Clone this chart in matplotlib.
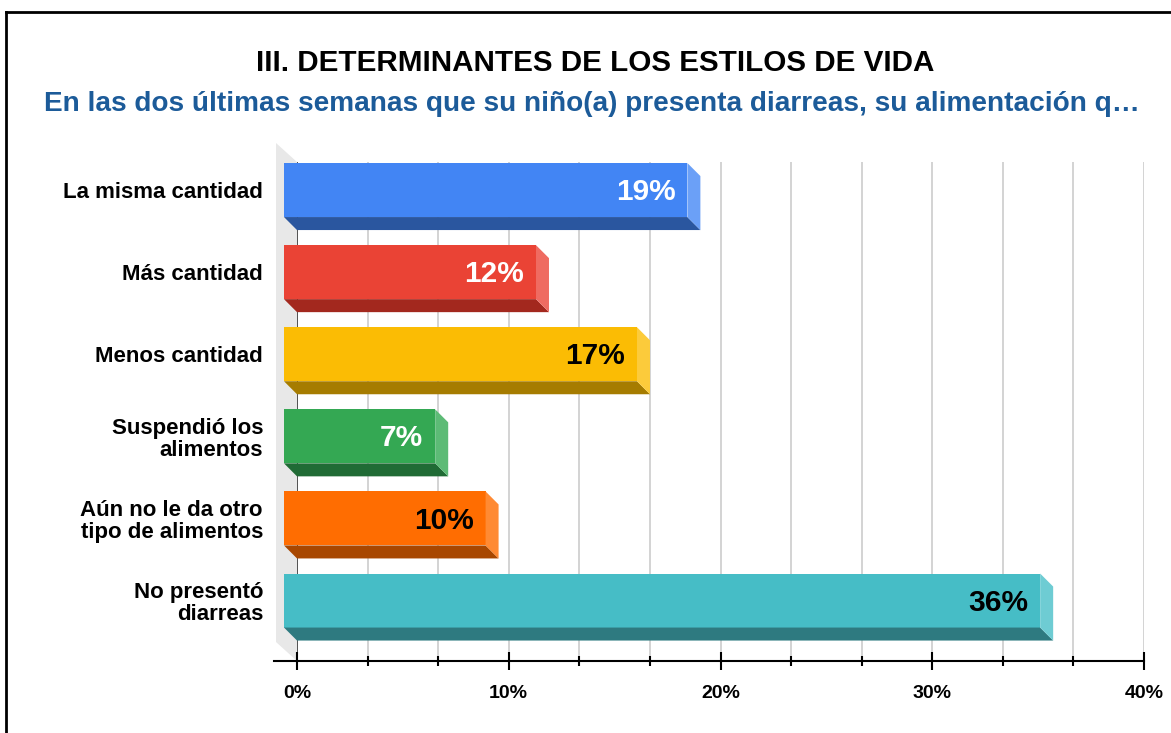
import matplotlib.pyplot as plt
from matplotlib.patches import Polygon
from matplotlib.lines import Line2D
import numpy as np

plt.rcParams['font.family'] = ['Liberation Sans', 'DejaVu Sans']

############# data ###############
categories = ['La misma cantidad', 'Más cantidad', 'Menos cantidad',
              'Suspendió los\nalimentos', 'Aún no le da otro\ntipo de alimentos',
              'No presentó\ndiarreas']
values = [19.05, 11.90, 16.67, 7.14, 9.52, 35.71]
labels = ['19%', '12%', '17%', '7%', '10%', '36%']
front_colors = ['#4285F4', '#EA4335', '#FBBC04', '#34A853', '#FF6D01', '#46BDC6']
bottom_colors = ['#2A569F', '#A3281E', '#A67C00', '#206B35', '#A84700', '#2E7A80']
side_colors = ['#6BA0F7', '#EF6B61', '#FCCB3B', '#5DBB76', '#FF8A33', '#6ECCD3']
label_colors = ['white', 'white', 'black', 'white', 'black', 'black']
xticks = [0, 10, 20, 30, 40]
xticklabels = ['0%', '10%', '20%', '30%', '40%']

############# figure ###############
W, H = 1171, 733
fig = plt.figure(figsize=(W / 100, H / 100), dpi=100)

# plot area in pixels
x0, x1 = 297, 1144
ytop, ybot = 162, 661
ax = fig.add_axes([x0 / W, (H - ybot) / H, (x1 - x0) / W, (ybot - ytop) / H])
ax.set_xlim(0, 40)
ymax = 5.578
ax.set_ylim(ymax, -0.5)

px_x = (x1 - x0) / 40.0
px_y = (ybot - ytop) / (ymax + 0.5)
dx = 13 / px_x          # depth offset in data units
dy = 13 / px_y
h = 54 / px_y           # bar thickness

##### side wall #####
wx = 21 / px_x
wy = 19 / px_y
wall = Polygon([(-wx, -0.5 - wy), (0, -0.5), (0, ymax), (-wx, ymax - wy)],
               closed=True, facecolor='#e8e8e8', edgecolor='none', zorder=0, clip_on=False)
ax.add_patch(wall)

##### grid #####
grid_x = np.arange(1, 13) * 10 / 3.0
ax.vlines(grid_x, -0.5, ymax, colors='#cccccc', linewidth=1.2, zorder=1)
ax.vlines([0], -0.5, ymax, colors='#333333', linewidth=1.2, zorder=1)

##### bars #####
for i, v in enumerate(values):
    c = i
    top = c - h / 2
    bot = c + h / 2
    front = Polygon([(-dx, top - dy), (v - dx, top - dy), (v - dx, bot - dy), (-dx, bot - dy)],
                    closed=True, facecolor=front_colors[i], edgecolor='none', zorder=3, clip_on=False)
    bottom = Polygon([(-dx, bot - dy), (v - dx, bot - dy), (v, bot), (0, bot)],
                     closed=True, facecolor=bottom_colors[i], edgecolor='none', zorder=3, clip_on=False)
    side = Polygon([(v - dx, top - dy), (v, top), (v, bot), (v - dx, bot - dy)],
                   closed=True, facecolor=side_colors[i], edgecolor='none', zorder=3, clip_on=False)
    ax.add_patch(front)
    ax.add_patch(bottom)
    ax.add_patch(side)
    ax.annotate(labels[i], xy=(v - dx, c - dy), xytext=(-12 * 0.72, -1.5), textcoords='offset points',
                ha='right', va='center', fontsize=21.5, fontweight='bold', color=label_colors[i], zorder=4)

##### axis #####
for s in ['top', 'right', 'left', 'bottom']:
    ax.spines[s].set_visible(False)
ax.plot([-23 / px_x, 40], [ymax, ymax], color='black', linewidth=1.5, clip_on=False, zorder=2)

ax.set_xticks(xticks)
ax.set_xticklabels(xticklabels, fontsize=14, fontweight='bold')
ax.set_xticks([v for v in grid_x if abs(v / 10 - round(v / 10)) > 1e-6], minor=True)
ax.tick_params(axis='x', which='major', direction='inout', length=13, width=1.5, pad=10.5)
ax.tick_params(axis='x', which='minor', direction='inout', length=6.5, width=1.5)

ax.set_yticks(np.arange(len(categories)) - dy)
ax.set_yticklabels(categories, fontsize=16, fontweight='bold', linespacing=1.05)
ax.tick_params(axis='y', length=0, pad=34 * 0.72)

##### titles #####
fig.text(595 / W, 1 - 63 / H, 'III. DETERMINANTES DE LOS ESTILOS DE VIDA',
         ha='center', va='center', fontsize=21.3, fontweight='bold', color='black')
fig.text(592 / W, 1 - 104 / H,
         'En las dos últimas semanas que su niño(a) presenta diarreas, su alimentación q…',
         ha='center', va='center', fontsize=20.2, fontweight='bold', color='#1c5b99')

##### border #####
fig.add_artist(Line2D([6 / W, 6 / W], [0, 1 - 12 / H], color='black', linewidth=2))
fig.add_artist(Line2D([6 / W, 1], [1 - 12 / H, 1 - 12 / H], color='black', linewidth=2))

plt.savefig('out.png', dpi=100)
